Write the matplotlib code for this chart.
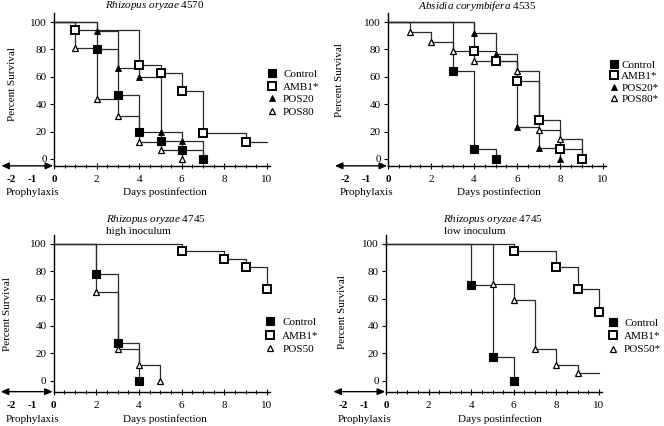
import matplotlib
matplotlib.use("Agg")
import matplotlib.pyplot as plt

plt.rcParams["font.family"] = ["Liberation Serif", "DejaVu Serif"]
plt.rcParams["mathtext.fontset"] = "custom"
plt.rcParams["mathtext.rm"] = "Liberation Serif"
plt.rcParams["mathtext.it"] = "Liberation Serif:italic"

W, H = 664, 426
FS = 8
LINE_COLOR = "#2a2a2a"

# Kaplan-Meier style survival data (day of event, % survival after event)
# Rhizopus oryzae 4570
ro4570_ctrl_days = [2, 3, 4, 5, 6, 7]
ro4570_ctrl_surv = [80, 46.7, 20, 13.3, 6.7, 0]
ro4570_amb_days = [1, 4, 5, 6, 7, 9]
ro4570_amb_surv = [93.8, 68.8, 62.5, 50, 18.8, 12.5]
ro4570_pos20_days = [2, 3, 4, 5, 6, 7]
ro4570_pos20_surv = [93.3, 66.7, 60, 20, 13.3, 0]
ro4570_pos80_days = [1, 2, 3, 4, 5, 6]
ro4570_pos80_surv = [81.3, 43.8, 31.3, 12.5, 6.3, 0]

# Absidia corymbifera 4535
ac4535_ctrl_days = [3, 4, 5]
ac4535_ctrl_surv = [64.3, 7.1, 0]
ac4535_amb_days = [4, 5, 6, 7, 8, 9]
ac4535_amb_surv = [78.6, 71.4, 57.1, 28.6, 7.1, 0]
ac4535_pos20_days = [4, 5, 6, 7, 8]
ac4535_pos20_surv = [92.3, 76.9, 23.1, 7.7, 0]
ac4535_pos80_days = [1, 2, 3, 4, 6, 7, 8, 9]
ac4535_pos80_surv = [92.9, 85.7, 78.6, 71.4, 64.3, 21.4, 14.3, 0]

# Rhizopus oryzae 4745, high inoculum
hi_ctrl_days = [2, 3, 4]
hi_ctrl_surv = [77.8, 27.8, 0]
hi_amb_days = [6, 8, 9, 10]
hi_amb_surv = [94.4, 88.9, 83.3, 66.7]
hi_pos50_days = [2, 3, 4, 5]
hi_pos50_surv = [64.7, 23.5, 11.8, 0]

# Rhizopus oryzae 4745, low inoculum
lo_ctrl_days = [4, 5, 6]
lo_ctrl_surv = [69.6, 17.4, 0]
lo_amb_days = [6, 8, 9, 10]
lo_amb_surv = [94.4, 83.3, 66.7, 50]
lo_pos50_days = [5, 6, 7, 8, 9]
lo_pos50_surv = [70.6, 58.8, 23.5, 11.8, 5.9]

x_major = [-2, -1, 0, 2, 4, 6, 8, 10]
y_major = [0, 20, 40, 60, 80, 100]

STYLES = {
    "ctrl": dict(marker="s", ms=5.6, mfc="black", mec="black", mew=0.8),
    "amb": dict(marker="s", ms=5.4, mfc="white", mec="black", mew=1.4),
    "pos_f": dict(marker="^", ms=5.0, mfc="black", mec="black", mew=0.6),
    "pos_o": dict(marker="^", ms=5.0, mfc="white", mec="black", mew=0.9),
}


def px_rect(x0, ppd, y0, ppu, xlim, ylim):
    left = x0 + xlim[0] * ppd
    right = x0 + xlim[1] * ppd
    top = y0 - ylim[1] * ppu
    bottom = y0 - ylim[0] * ppu
    return [left / W, 1 - bottom / H, (right - left) / W, (bottom - top) / H]


def survival(ax, days, surv, style):
    xs = [0] + list(days)
    ys = [100] + list(surv)
    if surv[-1] > 0 and days[-1] < 10:
        xs.append(10)
        ys.append(surv[-1])
    ax.step(xs, ys, where="post", color=LINE_COLOR, lw=0.9, zorder=2)
    h, = ax.plot(days, surv, ls="none", zorder=3, **STYLES[style])
    return h


def make_panel(fig, x0, ppd, y0, ppu, axis_y):
    xlim = (-2.6, 10.5)
    ylim = (axis_y - 1.5, 107)
    ax = fig.add_axes(px_rect(x0, ppd, y0, ppu, xlim, ylim))
    ax.set_xlim(xlim)
    ax.set_ylim(ylim)
    ax.patch.set_alpha(0)
    for s in ("top", "right"):
        ax.spines[s].set_visible(False)
    ax.spines["left"].set_position(("data", 0))
    ax.spines["left"].set_bounds(axis_y, 106.5)
    ax.spines["bottom"].set_position(("data", axis_y))
    ax.spines["bottom"].set_bounds(0, 10.15)
    for s in ("left", "bottom"):
        ax.spines[s].set_linewidth(1.0)

    ax.set_yticks(y_major)
    ax.tick_params(axis="y", direction="out", length=3, width=0.8, pad=2,
                   labelsize=FS)
    ax.set_xticks(x_major)
    ax.set_xticklabels([str(v) for v in x_major])
    ax.set_xticks([v / 2 for v in range(1, 21) if v % 4], minor=True)
    ax.tick_params(axis="x", which="major", direction="inout", length=4,
                   width=0.8, pad=4.5, labelsize=FS)
    ax.tick_params(axis="x", which="minor", direction="inout", length=2.5,
                   width=0.7)
    for tk, v in zip(ax.xaxis.get_major_ticks(), x_major):
        if v < 0:
            tk.tick1line.set_visible(False)
    for lbl, v in zip(ax.get_xticklabels(), x_major):
        if v <= 0:
            lbl.set_fontweight("bold")

    ax.annotate("", xy=(-2.47, axis_y), xytext=(-0.04, axis_y),
                arrowprops=dict(arrowstyle="<|-|>,head_length=0.45,head_width=0.2",
                                color="black", lw=1.0, shrinkA=0, shrinkB=0))
    return ax


def fig_text(fig, x, y, s, **kw):
    fig.text(x / W, 1 - y / H, s, fontsize=FS, **kw)


def panel_labels(fig, ax, ylab_x, ylab_y, proph_x, days_x, lab_y):
    ax.set_ylabel("Percent Survival", fontsize=FS)
    ax.yaxis.set_label_coords(ylab_x / W, 1 - ylab_y / H, transform=fig.transFigure)
    fig_text(fig, proph_x, lab_y, "Prophylaxis", ha="center", va="center")
    fig_text(fig, days_x, lab_y, "Days postinfection", ha="center", va="center")


def panel_legend(fig, ax, handles, labels, x, y, pad, spacing):
    ax.legend(handles, labels, loc="upper left",
              bbox_to_anchor=(x / W, 1 - y / H), bbox_transform=fig.transFigure,
              frameon=False, fontsize=FS, handlelength=0.95,
              handletextpad=pad, labelspacing=spacing, borderpad=0,
              borderaxespad=0, numpoints=1)


fig = plt.figure(figsize=(W / 100, H / 100), dpi=100)

# Panel 1
ax1 = make_panel(fig, 54, 21.3, 159, 1.37, -5)
h_ctrl = survival(ax1, ro4570_ctrl_days, ro4570_ctrl_surv, "ctrl")
h_p20 = survival(ax1, ro4570_pos20_days, ro4570_pos20_surv, "pos_f")
h_p80 = survival(ax1, ro4570_pos80_days, ro4570_pos80_surv, "pos_o")
h_amb = survival(ax1, ro4570_amb_days, ro4570_amb_surv, "amb")
fig_text(fig, 155, 6, r"$\it{Rhizopus\ oryzae}$ 4570", ha="center", va="center")
panel_labels(fig, ax1, 17, 84, 33, 165, 192)
panel_legend(fig, ax1, [h_ctrl, h_amb, h_p20, h_p80],
             ["Control", "AMB1*", "POS20", "POS80"], 267, 69, 0.5, 0.27)

# Panel 2
ax2 = make_panel(fig, 388, 21.5, 159, 1.37, -5)
h_ctrl = survival(ax2, ac4535_ctrl_days, ac4535_ctrl_surv, "ctrl")
h_p20 = survival(ax2, ac4535_pos20_days, ac4535_pos20_surv, "pos_f")
h_p80 = survival(ax2, ac4535_pos80_days, ac4535_pos80_surv, "pos_o")
h_amb = survival(ax2, ac4535_amb_days, ac4535_amb_surv, "amb")
fig_text(fig, 477, 6, r"$\it{Absidia\ corymbifera}$ 4535", ha="center", va="center")
panel_labels(fig, ax2, 344, 80, 367, 499, 192)
panel_legend(fig, ax2, [h_ctrl, h_amb, h_p20, h_p80],
             ["Control", "AMB1*", "POS20*", "POS80*"], 609, 60, 0.15, 0.15)

# Panel 3
ax3 = make_panel(fig, 53.5, 21.35, 380.7, 1.37, -8)
h_ctrl = survival(ax3, hi_ctrl_days, hi_ctrl_surv, "ctrl")
h_p50 = survival(ax3, hi_pos50_days, hi_pos50_surv, "pos_o")
h_amb = survival(ax3, hi_amb_days, hi_amb_surv, "amb")
fig_text(fig, 106, 219, r"$\it{Rhizopus\ oryzae}$ 4745", ha="left", va="center")
fig_text(fig, 106, 232, "high inoculum", ha="left", va="center")
panel_labels(fig, ax3, 12, 314, 33, 165, 419)
panel_legend(fig, ax3, [h_ctrl, h_amb, h_p50],
             ["Control", "AMB1*", "POS50"], 265, 317, 0.6, 0.36)

# Panel 4
ax4 = make_panel(fig, 386, 21.3, 380.7, 1.37, -8)
h_ctrl = survival(ax4, lo_ctrl_days, lo_ctrl_surv, "ctrl")
h_p50 = survival(ax4, lo_pos50_days, lo_pos50_surv, "pos_o")
h_amb = survival(ax4, lo_amb_days, lo_amb_surv, "amb")
fig_text(fig, 443, 219, r"$\it{Rhizopus\ oryzae}$ 4745", ha="left", va="center")
fig_text(fig, 444, 232, "low inoculum", ha="left", va="center")
panel_labels(fig, ax4, 347, 312, 365, 500, 419)
panel_legend(fig, ax4, [h_ctrl, h_amb, h_p50],
             ["Control", "AMB1*", "POS50*"], 608, 318, 0.5, 0.32)

fig.savefig("out.png", dpi=100)
